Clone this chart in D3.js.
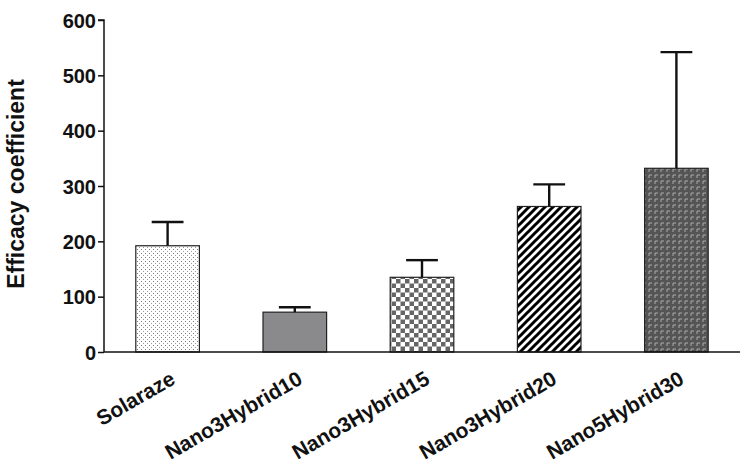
<!DOCTYPE html>
<html>
<head>
<meta charset="utf-8">
<script src="https://cdn.jsdelivr.net/npm/d3@7"></script>
<style>
  body { margin: 0; background: #fff; }
  svg text { font-family: "Liberation Sans", Arial, sans-serif; font-weight: bold; }
</style>
</head>
<body>
<svg id="chart" width="744" height="476"></svg>
<script>
const categories = ["Solaraze", "Nano3Hybrid10", "Nano3Hybrid15", "Nano3Hybrid20", "Nano5Hybrid30"];
const means = [192, 72, 135, 263, 332];
const errors = [43, 9, 31, 40, 210];
const yTicks = [0, 100, 200, 300, 400, 500, 600];
const patterns = ["dots", "solid", "checker", "diag", "weave"];

const svg = d3.select("#chart");
const margin = { left: 104, right: 4, top: 20, bottom: 124 };
const W = 744, H = 476;

const x = d3.scaleBand().domain(categories).range([margin.left, W - margin.right]).paddingInner(0.5).paddingOuter(0.25);
const y = d3.scaleLinear().domain([0, 600]).range([H - margin.bottom, margin.top]);

const defs = svg.append("defs");
// stipple dots
const p1 = defs.append("pattern").attr("id", "dots").attr("patternUnits", "userSpaceOnUse").attr("width", 4).attr("height", 4);
p1.append("rect").attr("width", 4).attr("height", 4).attr("fill", "#fff");
p1.append("rect").attr("x", 1).attr("y", 1).attr("width", 1).attr("height", 1).attr("fill", "#777");
p1.append("rect").attr("x", 3).attr("y", 3).attr("width", 1).attr("height", 1).attr("fill", "#999");
// checker
const p2 = defs.append("pattern").attr("id", "checker").attr("patternUnits", "userSpaceOnUse").attr("width", 9).attr("height", 9);
p2.append("rect").attr("width", 9).attr("height", 9).attr("fill", "#fff");
p2.append("rect").attr("width", 4.5).attr("height", 4.5).attr("fill", "#666");
p2.append("rect").attr("x", 4.5).attr("y", 4.5).attr("width", 4.5).attr("height", 4.5).attr("fill", "#666");
// diagonal
const p3 = defs.append("pattern").attr("id", "diag").attr("patternUnits", "userSpaceOnUse").attr("width", 8).attr("height", 8);
p3.append("rect").attr("width", 8).attr("height", 8).attr("fill", "#fff");
p3.append("path").attr("d", "M-2,2 L2,-2 M0,8 L8,0 M6,10 L10,6").attr("stroke", "#000").attr("stroke-width", 3);
// weave
const p4 = defs.append("pattern").attr("id", "weave").attr("patternUnits", "userSpaceOnUse").attr("width", 6).attr("height", 6);
p4.append("rect").attr("width", 6).attr("height", 6).attr("fill", "#555");
p4.append("path").attr("d", "M1,4 L1,1 L4,1").attr("stroke", "#aaa").attr("stroke-width", 1).attr("fill", "none");

function fillFor(p) { return p === "solid" ? "#8a8a8c" : `url(#${p})`; }

// bars
svg.append("g").selectAll("rect").data(categories).join("rect")
  .attr("x", d => x(d))
  .attr("y", (d, i) => y(means[i]))
  .attr("width", x.bandwidth())
  .attr("height", (d, i) => y(0) - y(means[i]))
  .attr("fill", (d, i) => fillFor(patterns[i]))
  .attr("stroke", "#222").attr("stroke-width", 1.2);

// error bars
const eg = svg.append("g").attr("stroke", "#111").attr("stroke-width", 2.4);
categories.forEach((c, i) => {
  const cx = x(c) + x.bandwidth() / 2;
  const capW = x.bandwidth() / 2;
  eg.append("line").attr("x1", cx).attr("x2", cx).attr("y1", y(means[i])).attr("y2", y(means[i] + errors[i]));
  eg.append("line").attr("x1", cx - capW / 2).attr("x2", cx + capW / 2).attr("y1", y(means[i] + errors[i])).attr("y2", y(means[i] + errors[i]));
});

// y axis
const yAxis = svg.append("g").attr("transform", `translate(${margin.left},0)`)
  .call(d3.axisLeft(y).tickValues(yTicks).tickSize(6).tickPadding(2).tickFormat(d3.format("d")));
yAxis.selectAll("path, line").attr("stroke", "#111").attr("stroke-width", 1.5);
yAxis.select(".domain").attr("d", `M-6,${y(600)}H0V${y(0)}`);
yAxis.selectAll("text").attr("font-size", 20).attr("fill", "#111").attr("dy", "0.35em");

// x axis
const xAxis = svg.append("g").attr("transform", `translate(0,${y(0)})`)
  .call(d3.axisBottom(x).tickSize(0).tickPadding(0));
xAxis.select(".domain").attr("stroke", "#111").attr("stroke-width", 1.5).attr("d", `M${margin.left},0H${W - margin.right}`);
xAxis.selectAll("text")
  .attr("font-size", 21).attr("fill", "#111")
  .attr("text-anchor", "end")
  .attr("dy", null).attr("y", null)
  .attr("transform", "translate(9,31) rotate(-30)");

// y label
svg.append("text")
  .attr("transform", `translate(24,${184}) rotate(-90)`)
  .attr("text-anchor", "middle")
  .attr("font-size", 23).attr("fill", "#111")
  .text("Efficacy coefficient");
</script>
</body>
</html>
